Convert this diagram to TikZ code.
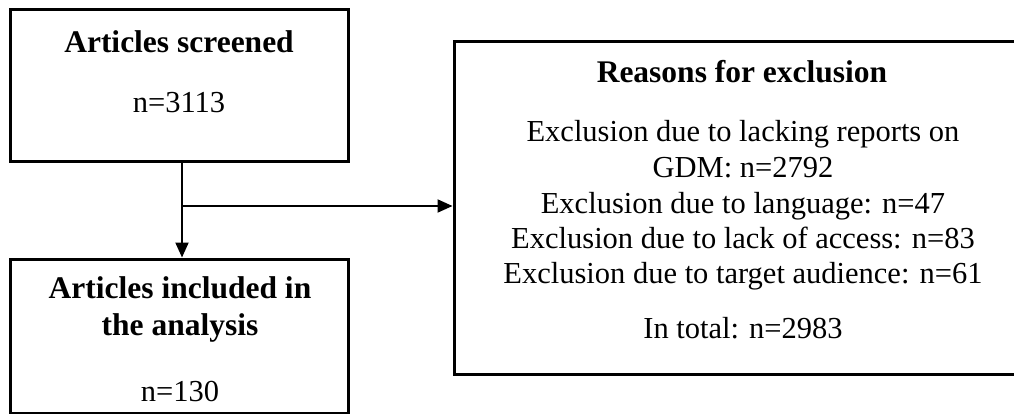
\documentclass[tikz,border=0pt]{standalone}
\usepackage{fontspec}
\setmainfont{Liberation Serif}
\usetikzlibrary{arrows.meta}
\tikzset{
  box/.style={draw=black, line width=3pt, inner sep=0pt, fill=none},
  txt/.style={anchor=base, inner sep=0pt, font=\fontsize{30.5}{35}\selectfont},
  head/.style={anchor=base, inner sep=0pt, font=\fontsize{31.5}{35}\selectfont\bfseries},
  conn/.style={draw=black, line width=2pt},
  arr/.style={conn, -{Triangle[width=13pt,length=15pt]}},
}
\begin{document}
\begin{tikzpicture}[x=1pt,y=-1pt]
\clip (0,0) rectangle (1014,414);
% boxes
\node[box, minimum width=338pt, minimum height=152pt] (screened) at (179,86) {};
\node[box, minimum width=338pt, minimum height=154pt] (included) at (179,336) {};
\node[box, minimum width=576pt, minimum height=332pt] (reasons) at (742,208) {};
% texts box 1
\node[head] (t1a) at (179,53) {Articles screened};
\node[txt] (t1b) at (179,113) {n=3113};
% texts box 2
\node[head] (t2a) at (180,298) {Articles included in};
\node[head] (t2b) at (180,335) {the analysis};
\node[txt] (t2c) at (180,401) {n=130};
% texts box 3
\node[head] (t3a) at (742,83) {Reasons for exclusion};
\node[txt] (t3b) at (743,142) {Exclusion due to lacking reports on};
\node[txt] (t3c) at (743,178) {GDM: n=2792};
\node[txt] (t3d) at (743,213) {Exclusion due to language: n=47};
\node[txt] (t3e) at (743,248) {Exclusion due to lack of access: n=83};
\node[txt] (t3f) at (743,283) {Exclusion due to target audience: n=61};
\node[txt] (t3g) at (743,338) {In total: n=2983};
% connectors
\coordinate (split) at (182,206);
\draw[arr] (screened.south -| split) -- (included.north -| split);
\draw[arr] (split) -- (split -| reasons.west);
\end{tikzpicture}
\end{document}
